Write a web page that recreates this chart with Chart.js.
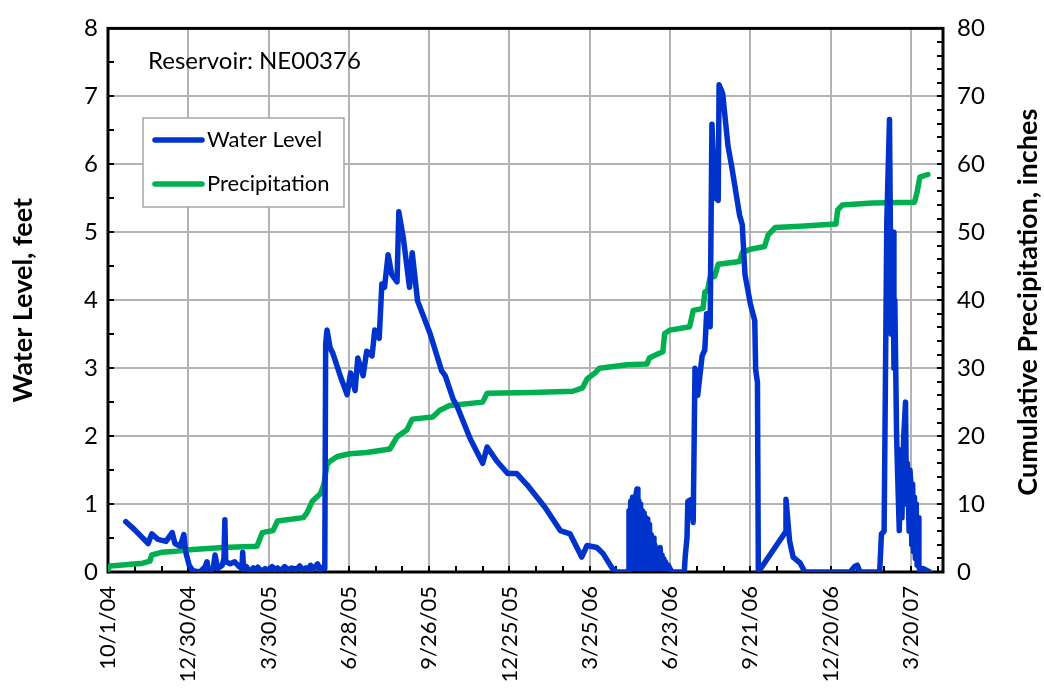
<!DOCTYPE html>
<html>
<head>
<meta charset="utf-8">
<script src="https://cdn.jsdelivr.net/npm/chart.js@4"></script>
<style>
  html, body { margin: 0; padding: 0; background: #fff; }
</style>
</head>
<body>
<canvas id="chart" width="1044" height="692"></canvas>
<script>
// x values are days since 10/1/04
const xTickLabels = ["10/1/04", "12/30/04", "3/30/05", "6/28/05", "9/26/05", "12/25/05",
    "3/25/06", "6/23/06", "9/21/06", "12/20/06", "3/20/07"];

// [day, feet]
const waterLevel = [
    [20,0.74],[30,0.62],[45,0.42],[49,0.56],[56,0.48],[65,0.45],[72,0.58],[75,0.42],[81,0.38],[85,0.55],
    [87,0.3],[91,0.1],[95,0.02],[103,0],[109,0.08],[111,0.15],[113,0],[118,0.05],[120,0.25],[123,0.05],
    [128,0.1],[130,0.2],[131,0.77],[132,0.15],[137,0.12],[142,0.15],[147,0.08],[150,0.05],[151,0.29],[152,0.04],
    [155,0.08],[159,0],[163,0.06],[166,0.02],[168,0.07],[172,0.01],[176,0.05],[180,0.02],[184,0.08],[187,0.03],
    [190,0.06],[194,0.02],[198,0.08],[202,0.03],[206,0.06],[210,0.02],[215,0.09],[218,0.03],[222,0.06],[225,0.02],
    [227,0.1],[230,0.04],[232,0.08],[235,0.12],[237,0.03],[240,0.07],[243,0.05],[244,3.35],[245.5,3.56],[249,3.3],
    [252,3.22],[260,2.9],[268,2.61],[272,2.93],[277,2.67],[280,3.15],[286,2.89],[290,3.25],[296,3.18],[299,3.56],
    [304,3.44],[307,4.24],[310,4.19],[314,4.67],[318,4.38],[324,4.27],[326,5.3],[331,4.92],[338,4.19],[341,4.7],
    [347,3.99],[361,3.51],[374,2.96],[378,2.89],[387,2.54],[391,2.45],[406,1.96],[420,1.6],[425,1.84],[436,1.63],
    [448,1.45],[458,1.45],[470,1.28],[490,0.95],[507,0.61],[518,0.56],[531,0.22],[537,0.39],[548,0.36],[555,0.27],
    [565,0.06],[570,0],[583,0],[584,0.9],[585,0.1],[586,1.04],[587,0.05],[588,1.1],[589,0.1],[590,1.0],
    [591,0.05],[592,1.15],[593,1.22],[594,0.1],[595,1.05],[596,0.05],[597,1.0],[598,0.1],[599,0.9],[600,0.05],
    [601,0.87],[602,0.1],[603,0.8],[604,0.05],[605,0.78],[606,0.1],[607,0.7],[608,0.05],[609,0.55],[610,0.1],
    [611,0.5],[612,0.05],[613,0.4],[614,0.1],[615,0.35],[616,0.05],[617,0.3],[618,0.1],[619,0.36],[620,0.05],
    [621,0.25],[622,0.05],[623,0.2],[624,0.05],[625,0.15],[626,0.05],[628,0.1],[632,0],[646,0],[647,0.22],
    [649,0.5],[650,1.04],[654,1.07],[656,0.73],[658,3.0],[661,2.6],[666,3.18],[669,3.27],[671,3.8],[675,3.61],
    [677,6.59],[679,5.94],[681,5.5],[684,5.47],[685,7.17],[689,7.04],[695,6.27],[699,5.98],[708,5.25],[711,5.11],
    [714,4.38],[720,3.95],[725,3.7],[726,2.98],[728,2.79],[729,0],[759,0.58],[760,1.07],[764,0.46],[768,0.22],
    [776,0.13],[781,0],[832,0],[837,0.08],[840,0.1],[843,0],[865,0],[867,0.56],[870,0.6],[873,5.15],
    [876,6.66],[878,3.5],[879,4.67],[880,5.0],[881,3.0],[882,4.0],[884,2.01],[885,1.5],[887,0.61],[889,1.8],
    [890,0.8],[891,1.53],[892,2.0],[894,2.5],[895,1.0],[896,1.6],[897,1.2],[898,0.6],[899,1.5],[900,1.3],
    [901,0.4],[902,1.29],[903,0.3],[904,1.1],[905,0.2],[906,1.0],[907,0.1],[908,0.8],[909,0.1],[910,0],
    [914,0.05],[921,0]
];

// [day, inches]
const precipitation = [
    [0,0.3],[2,0.9],[13,1.0],[39,1.3],[47,1.6],[49,2.5],[60,2.9],[72,3.0],[95,3.3],[129,3.6],
    [167,3.8],[173,5.8],[185,6.1],[190,7.5],[219,8.0],[223,8.7],[229,10.4],[238,11.5],[242,12.9],[245.5,15.8],
    [249,16.3],[257,17.0],[271,17.4],[290,17.6],[316,18.1],[324,19.9],[335,20.9],[341,22.5],[364,22.8],[372,23.8],
    [383,24.5],[420,25.0],[425,26.3],[476,26.4],[521,26.6],[532,27.1],[537,28.4],[546,29.3],[551,30.0],[582,30.5],
    [604,30.6],[607,31.5],[613,31.9],[622,32.4],[624,35.1],[630,35.6],[652,36.1],[656,38.5],[667,38.8],[669,41.2],
    [672,41.4],[675,43.4],[680,43.5],[684,45.3],[708,45.7],[711,47.0],[720,47.5],[736,47.9],[740,49.6],[748,50.7],
    [776,50.9],[816,51.2],[818,53.3],[823,54.0],[857,54.3],[904,54.4],[907,55.9],[910,58.1],[919,58.5]
];

const leftTitle = "Water Level, feet";
const rightTitle = "Cumulative Precipitation, inches";
const noteText = "Reservoir: NE00376";

const FONT = "Lato, 'Open Sans', sans-serif";
const gridColor = "#b3b3b3";

const decor = {
    id: "decor",
    beforeDatasetsDraw(chart) {
        const { ctx, chartArea: a, scales } = chart;
        ctx.save();
        ctx.strokeStyle = "#000";
        ctx.lineWidth = 2;
        ctx.beginPath();
        for (let v = 0; v <= 8; v += 0.5) {
            const y = Math.round(scales.y.getPixelForValue(v));
            ctx.moveTo(a.left, y); ctx.lineTo(a.left + 6, y);
        }
        for (let v = 0; v <= 80; v += 2) {
            const y = Math.round(scales.y2.getPixelForValue(v));
            ctx.moveTo(a.right - 6, y); ctx.lineTo(a.right, y);
        }
        for (let d = 0; d <= scales.x.max; d += 30) {
            const x = Math.round(scales.x.getPixelForValue(d));
            ctx.moveTo(x, a.bottom); ctx.lineTo(x, a.bottom - 6);
        }
        ctx.stroke();
        ctx.lineWidth = 3;
        ctx.strokeRect(a.left, a.top, a.right - a.left, a.bottom - a.top);
        ctx.restore();
    },
    afterDraw(chart) {
        const { ctx, chartArea: a } = chart;
        ctx.save();
        ctx.fillStyle = "#000";
        ctx.textBaseline = "middle";

        // note
        ctx.font = "24px " + FONT;
        ctx.textAlign = "left";
        ctx.fillText(noteText, 148, 61);

        // legend box
        ctx.fillStyle = "#fff";
        ctx.fillRect(143, 118, 201, 89);
        ctx.strokeStyle = "#a6a6a6";
        ctx.lineWidth = 1.5;
        ctx.strokeRect(143, 118, 201, 89);
        ctx.font = "22px " + FONT;
        chart.data.datasets.forEach((ds, i) => {
            const y = 140 + i * 44;
            ctx.strokeStyle = ds.borderColor;
            ctx.lineWidth = 5.5;
            ctx.lineCap = "round";
            ctx.beginPath();
            ctx.moveTo(155, y); ctx.lineTo(202, y);
            ctx.stroke();
            ctx.fillStyle = "#000";
            ctx.fillText(ds.label, 207, y);
        });

        // axis titles
        ctx.font = "bold 27px " + FONT;
        ctx.textAlign = "center";
        const cy = (a.top + a.bottom) / 2;
        ctx.translate(23, cy);
        ctx.rotate(-Math.PI / 2);
        ctx.fillText(leftTitle, 0, 0);
        ctx.rotate(Math.PI / 2);
        ctx.translate(1028 - 23, 2);
        ctx.rotate(-Math.PI / 2);
        ctx.fillText(rightTitle, 0, 0);
        ctx.restore();
    }
};

const toPoints = (rows) => rows.map(([d, v]) => ({ x: d, y: v }));

new Chart(document.getElementById("chart").getContext("2d"), {
    type: "line",
    data: {
        datasets: [
            {
                label: "Water Level",
                data: toPoints(waterLevel),
                borderColor: "#0033cc",
                borderWidth: 5.5,
                pointRadius: 0,
                tension: 0,
                borderJoinStyle: "round",
                borderCapStyle: "round",
                yAxisID: "y",
            },
            {
                label: "Precipitation",
                data: toPoints(precipitation),
                borderColor: "#00b050",
                borderWidth: 5.5,
                pointRadius: 0,
                tension: 0,
                borderJoinStyle: "round",
                borderCapStyle: "round",
                yAxisID: "y2",
            },
        ],
    },
    options: {
        responsive: false,
        animation: false,
        devicePixelRatio: 1,
        layout: { padding: { top: 21, right: 0, left: 0, bottom: 0 } },
        plugins: { legend: { display: false }, tooltip: { enabled: false } },
        scales: {
            x: {
                type: "linear",
                min: 0,
                max: 936,
                afterFit: (s) => { s.height = 120; },
                grid: { color: gridColor, lineWidth: 2, drawTicks: false },
                border: { display: false },
                ticks: {
                    stepSize: 90,
                    includeBounds: false,
                    autoSkip: false,
                    minRotation: 90,
                    maxRotation: 90,
                    padding: 14,
                    color: "#000",
                    font: { family: FONT, size: 22 },
                    callback: (v) => xTickLabels[v / 90] || "",
                },
            },
            y: {
                position: "left",
                min: 0,
                max: 8,
                afterFit: (s) => { s.width = 108; },
                grid: { color: gridColor, lineWidth: 2, drawTicks: false },
                border: { display: false },
                ticks: {
                    stepSize: 1,
                    padding: 10,
                    color: "#000",
                    font: { family: FONT, size: 24 },
                },
            },
            y2: {
                position: "right",
                min: 0,
                max: 80,
                afterFit: (s) => { s.width = 101; },
                grid: { display: false, drawTicks: false },
                border: { display: false },
                ticks: {
                    stepSize: 10,
                    padding: 14,
                    color: "#000",
                    font: { family: FONT, size: 24 },
                },
            },
        },
    },
    plugins: [decor],
});
</script>
</body>
</html>
